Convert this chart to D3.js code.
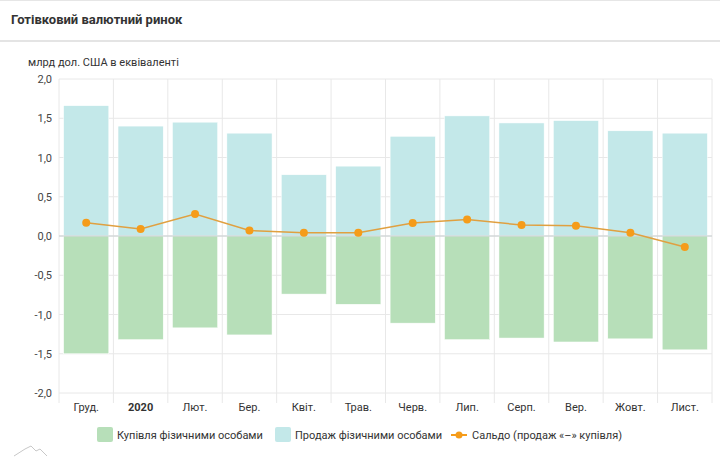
<!DOCTYPE html>
<html>
<head>
<meta charset="utf-8">
<script src="https://cdn.jsdelivr.net/npm/d3@7"></script>
<style>
  body { margin: 0; background: #fff; font-family: Roboto, "Noto Sans", sans-serif; }
  svg { display: block; }
</style>
</head>
<body>
<svg id="chart"></svg>
<script>
// data
const months = ["Груд.", "2020", "Лют.", "Бер.", "Квіт.", "Трав.", "Черв.", "Лип.", "Серп.", "Вер.", "Жовт.", "Лист."];
const sales = [1.66, 1.40, 1.45, 1.31, 0.78, 0.89, 1.27, 1.53, 1.44, 1.47, 1.34, 1.31];      // Продаж
const purchases = [-1.50, -1.32, -1.17, -1.26, -0.74, -0.87, -1.11, -1.32, -1.30, -1.35, -1.31, -1.45]; // Купівля
const balance = [0.17, 0.09, 0.28, 0.07, 0.04, 0.04, 0.165, 0.21, 0.14, 0.13, 0.04, -0.14];
const yTicks = [-2, -1.5, -1, -0.5, 0, 0.5, 1, 1.5, 2];

const W = 720, H = 457;
const margin = {top: 79, right: 8, bottom: 64, left: 59};
const green = "#b7dfb9", blue = "#c3e8e9", orange = "#f59c1a";

const svg = d3.select("#chart").attr("width", W).attr("height", H);

// header
svg.append("line").attr("x1", 0).attr("x2", W).attr("y1", 0.5).attr("y2", 0.5)
    .attr("stroke", "#e6e6e6");
svg.append("text").attr("x", 11).attr("y", 24)
    .style("font-size", "13px").style("font-weight", "bold").attr("fill", "#333")
    .text("Готівковий валютний ринок");
svg.append("rect").attr("x", 0).attr("y", 40).attr("width", W).attr("height", 2)
    .attr("fill", "#e4e4e4");

svg.append("text").attr("x", 28).attr("y", 66)
    .style("font-size", "11px").attr("fill", "#333")
    .text("млрд дол. США в еквіваленті");

const x = d3.scaleBand().domain(months)
    .range([margin.left, W - margin.right]).paddingInner(0.17).paddingOuter(0.085);
const y = d3.scaleLinear().domain([-2, 2]).range([H - margin.bottom, margin.top]);

// gridlines
const g = svg.append("g");
g.selectAll(".hg").data(yTicks).join("line")
    .attr("x1", margin.left).attr("x2", W - margin.right)
    .attr("y1", d => y(d)).attr("y2", d => y(d))
    .attr("stroke", "#e8e8e8");
const bounds = d3.range(months.length + 1).map(i => margin.left + i * (W - margin.right - margin.left) / months.length);
g.selectAll(".vg").data(bounds).join("line")
    .attr("x1", d => d).attr("x2", d => d)
    .attr("y1", margin.top).attr("y2", H - margin.bottom + 10)
    .attr("stroke", "#e8e8e8");

// y axis labels
svg.append("g").selectAll("text").data(yTicks).join("text")
    .attr("x", 52).attr("y", d => y(d) + 4)
    .attr("text-anchor", "end")
    .style("font-size", "11px").attr("fill", "#444")
    .text(d => d3.format(".1f")(d).replace(".", ",").replace("−", "-"));

// bars
svg.append("g").selectAll("rect").data(months).join("rect")
    .attr("x", d => x(d)).attr("width", x.bandwidth())
    .attr("y", (d, i) => y(sales[i])).attr("height", (d, i) => y(0) - y(sales[i]))
    .attr("fill", blue).attr("stroke", "#fff").attr("stroke-width", 0.5);
svg.append("g").selectAll("rect").data(months).join("rect")
    .attr("x", d => x(d)).attr("width", x.bandwidth())
    .attr("y", y(0)).attr("height", (d, i) => y(purchases[i]) - y(0))
    .attr("fill", green).attr("stroke", "#fff").attr("stroke-width", 0.5);

// zero line
svg.append("line").attr("x1", margin.left).attr("x2", W - margin.right)
    .attr("y1", y(0)).attr("y2", y(0)).attr("stroke", "#c8cfd0");

// balance line
const cx = d => x(d) + x.bandwidth() / 2;
svg.append("path").datum(months)
    .attr("fill", "none").attr("stroke", "#e0a040").attr("stroke-width", 1.5)
    .attr("d", d3.line().x(d => cx(d)).y((d, i) => y(balance[i])));
svg.append("g").selectAll("circle").data(months).join("circle")
    .attr("cx", d => cx(d)).attr("cy", (d, i) => y(balance[i])).attr("r", 4)
    .attr("fill", orange);

// x labels
svg.append("g").selectAll("text").data(months).join("text")
    .attr("x", d => cx(d)).attr("y", H - margin.bottom + 18)
    .attr("text-anchor", "middle")
    .style("font-size", "11px").attr("fill", "#333")
    .style("font-weight", d => d === "2020" ? "bold" : "normal")
    .text(d => d);

// legend
const lg = svg.append("g").style("font-size", "11px");
lg.append("rect").attr("x", 97).attr("y", 427).attr("width", 16).attr("height", 15).attr("rx", 2).attr("fill", green);
lg.append("text").attr("x", 117).attr("y", 439).attr("fill", "#333").text("Купівля фізичними особами");
lg.append("rect").attr("x", 275).attr("y", 427).attr("width", 16).attr("height", 15).attr("rx", 2).attr("fill", blue);
lg.append("text").attr("x", 295).attr("y", 439).attr("fill", "#333").text("Продаж фізичними особами");
lg.append("line").attr("x1", 451).attr("x2", 467).attr("y1", 435).attr("y2", 435).attr("stroke", orange).attr("stroke-width", 2);
lg.append("circle").attr("cx", 459).attr("cy", 435).attr("r", 3.5).attr("fill", orange);
lg.append("text").attr("x", 472).attr("y", 439).attr("fill", "#333").text("Сальдо (продаж «–» купівля)");

// small logo outline bottom-left
svg.append("path")
    .attr("d", "M14,456 L25,449 L31,446 L36,451 L40,449 L47,456")
    .attr("fill", "none").attr("stroke", "#c8c8c8").attr("stroke-width", 1);
</script>
</body>
</html>
